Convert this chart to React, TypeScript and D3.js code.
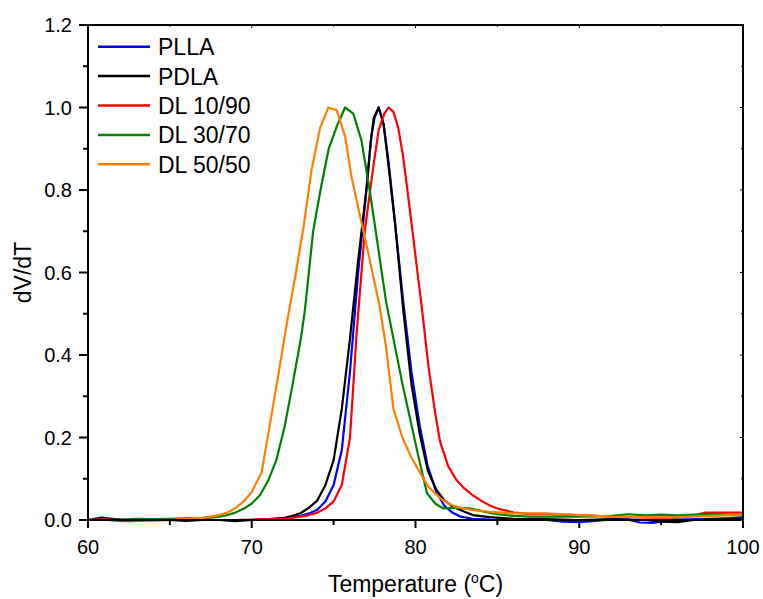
import React from "react";
import * as d3 from "d3";

const seriesNames = ["PLLA", "PDLA", "DL 10/90", "DL 30/70", "DL 50/50"];
const seriesColors = ["#0000ff", "#000000", "#ff0000", "#008000", "#ff8000"];

const plla: [number, number][] = [[60,0],[61,0.002],[62,-0.001],[63,0],[64,0.001],[65,0],[66,0],[67,0.001],[68,0],[69,0],[70,0],[71,0.001],[72,0.003],[73,0.01],[73.5,0.016],[74,0.025],[74.5,0.045],[75,0.085],[75.5,0.17],[76,0.36],[76.5,0.6],[77,0.8],[77.3,0.93],[77.5,0.975],[77.75,1.0],[78.05,0.96],[78.35,0.87],[78.75,0.72],[79.25,0.53],[79.75,0.36],[80.25,0.23],[80.75,0.13],[81.25,0.07],[81.75,0.035],[82.25,0.018],[82.75,0.008],[83.5,0.003],[84.5,0.001],[86,0],[88,0],[89,-0.004],[90,-0.005],[91,-0.002],[92,0.002],[93,0.001],[93.7,-0.006],[94.5,-0.007],[95.2,-0.002],[96,0.001],[98,0.003],[100,0.005]];

const pdla: [number, number][] = [[60,0],[60.8,0.006],[61.5,0.003],[62,0.001],[63,-0.002],[64,0],[65,0],[66,-0.002],[67,0],[68,0],[69,-0.003],[70,0],[71,0.002],[72,0.005],[72.5,0.01],[73,0.017],[73.5,0.03],[74,0.047],[74.5,0.085],[75,0.145],[75.5,0.27],[76,0.44],[76.5,0.63],[77,0.8],[77.25,0.91],[77.45,0.975],[77.75,1.0],[78.05,0.96],[78.35,0.86],[78.75,0.72],[79.25,0.51],[79.75,0.33],[80.25,0.21],[80.75,0.12],[81.25,0.075],[81.75,0.048],[82.25,0.033],[83,0.02],[83.5,0.012],[84.5,0.007],[86,0.003],[88,0.002],[90,0.0],[92,0.002],[94,0.0],[95,-0.004],[96,-0.005],[97,0.0],[98,0.002],[100,0.003]];

const dl1090: [number, number][] = [[60,0],[61,0.001],[62,-0.002],[62.5,-0.003],[63,-0.002],[64,0],[65,0],[66,0.001],[67,0.001],[68,0],[69,0],[70,0.001],[71,0.002],[72,0.003],[73,0.008],[73.5,0.012],[74,0.018],[74.5,0.028],[75,0.045],[75.5,0.085],[76,0.2],[76.4,0.45],[76.9,0.7],[77.4,0.85],[77.75,0.945],[78.1,0.985],[78.35,1.0],[78.65,0.99],[78.95,0.95],[79.25,0.88],[79.6,0.77],[80,0.64],[80.4,0.51],[80.8,0.37],[81.2,0.26],[81.5,0.19],[82,0.13],[82.5,0.097],[83,0.076],[83.5,0.06],[84,0.047],[84.5,0.036],[85,0.028],[86,0.018],[87,0.015],[88,0.015],[89,0.013],[90,0.012],[92,0.008],[94,0.006],[96,0.006],[97,0.01],[97.7,0.018],[100,0.018]];

const dl3070: [number, number][] = [[60,0],[61,0],[62,0.001],[63,0.003],[64,0.002],[65,0.003],[66,0.004],[67,0.005],[68,0.008],[68.5,0.012],[69,0.018],[69.5,0.027],[70,0.04],[70.5,0.06],[71,0.095],[71.5,0.145],[72,0.225],[72.5,0.33],[73,0.44],[73.25,0.51],[73.75,0.7],[74.2,0.8],[74.7,0.9],[75.2,0.955],[75.7,1.0],[76.2,0.985],[76.7,0.92],[77.2,0.8],[77.7,0.665],[78.2,0.53],[78.7,0.43],[79.2,0.33],[79.7,0.24],[80.2,0.15],[80.7,0.065],[81.2,0.04],[81.7,0.028],[82.5,0.03],[83.3,0.028],[84,0.022],[84.5,0.018],[85,0.014],[86,0.01],[87,0.008],[88,0.008],[89,0.008],[90,0.008],[91,0.009],[92,0.01],[93,0.014],[94,0.011],[95,0.013],[96,0.011],[97,0.013],[98,0.015],[100,0.01]];

const dl5050: [number, number][] = [[60,0],[61,0.001],[62,0],[63,-0.001],[64,-0.002],[65,0],[66,0.003],[67,0.005],[68,0.012],[68.5,0.018],[69,0.028],[69.5,0.045],[70,0.068],[70.6,0.115],[71.1,0.23],[71.7,0.37],[72.2,0.49],[72.7,0.6],[73.2,0.72],[73.65,0.848],[74.17,0.95],[74.68,1.0],[75.19,0.993],[75.7,0.93],[76.1,0.83],[76.6,0.74],[77.1,0.65],[77.8,0.52],[78.2,0.42],[78.65,0.27],[79.2,0.2],[79.7,0.155],[80.3,0.113],[80.8,0.08],[81.5,0.053],[82,0.04],[82.5,0.032],[83.5,0.024],[84.5,0.02],[86,0.016],[88,0.016],[89,0.014],[90,0.012],[91,0.01],[92,0.008],[94,0.007],[96,0.007],[98,0.01],[100,0.013]];

const seriesData = [plla, pdla, dl1090, dl3070, dl5050];

const xMajorTicks = [60, 70, 80, 90, 100];
const xMinorTicks = [65, 75, 85, 95];
const yMajorTicks = [0.0, 0.2, 0.4, 0.6, 0.8, 1.0, 1.2];
const yMinorTicks = [0.1, 0.3, 0.5, 0.7, 0.9, 1.1];

const W = 763, H = 599;
const left = 88, right = 743, top = 25, bottom = 520;
const font = "Arial, 'Liberation Sans', Helvetica, sans-serif";

export default function App() {
  const x = d3.scaleLinear().domain([60, 100]).range([left, right]);
  const y = d3.scaleLinear().domain([0, 1.2]).range([bottom, top]);
  const line = d3.line<[number, number]>().x(d => x(d[0])).y(d => y(d[1])).curve(d3.curveLinear);

  return (
    <svg width={W} height={H} style={{ position: "absolute", left: 0, top: 0, background: "#fff" }} fontFamily={font}>
      <defs>
        <clipPath id="plot">
          <rect x={left} y={top - 2} width={right - left + 8} height={bottom - top + 10} />
        </clipPath>
      </defs>
      <rect x={0} y={0} width={W} height={H} fill="#fff" />
      <g clipPath="url(#plot)">
        {seriesData.map((s, i) => (
          <path key={i} d={line(s) || ""} fill="none" stroke={seriesColors[i]} strokeWidth={2.2} strokeLinejoin="round" />
        ))}
      </g>
      <rect x={left} y={top} width={right - left} height={bottom - top} fill="none" stroke="#000" strokeWidth={2} />
      {xMajorTicks.map(t => (
        <g key={"xm" + t}>
          <line x1={x(t)} x2={x(t)} y1={bottom} y2={bottom + 8} stroke="#000" strokeWidth={2} />
          <line x1={x(t)} x2={x(t)} y1={top} y2={top + 3} stroke="#000" strokeWidth={1} />
          <text x={x(t)} y={554} textAnchor="middle" fontSize={20}>{t}</text>
        </g>
      ))}
      {xMinorTicks.map(t => (
        <g key={"xn" + t}>
          <line x1={x(t)} x2={x(t)} y1={bottom} y2={bottom + 5} stroke="#000" strokeWidth={2} />
          <line x1={x(t)} x2={x(t)} y1={top} y2={top + 2} stroke="#000" strokeWidth={1} />
        </g>
      ))}
      {yMajorTicks.map(t => (
        <g key={"ym" + t}>
          <line x1={left - 9} x2={left} y1={y(t)} y2={y(t)} stroke="#000" strokeWidth={2} />
          <line x1={right - 3} x2={right} y1={y(t)} y2={y(t)} stroke="#000" strokeWidth={1} />
          <text x={72} y={y(t) + 7} textAnchor="end" fontSize={20}>{t.toFixed(1)}</text>
        </g>
      ))}
      {yMinorTicks.map(t => (
        <g key={"yn" + t}>
          <line x1={left - 5} x2={left} y1={y(t)} y2={y(t)} stroke="#000" strokeWidth={2} />
          <line x1={right - 2} x2={right} y1={y(t)} y2={y(t)} stroke="#000" strokeWidth={1} />
        </g>
      ))}
      <text x={(left + right) / 2} y={592} textAnchor="middle" fontSize={23}>
        Temperature (<tspan dy={-9} fontSize={14}>o</tspan><tspan dy={9}>C)</tspan>
      </text>
      <text transform={`translate(31, ${(top + bottom) / 2}) rotate(-90)`} textAnchor="middle" fontSize={23}>dV/dT</text>
      {seriesNames.map((n, i) => {
        const ly = 46.7 + i * 29.4;
        return (
          <g key={n}>
            <line x1={98} x2={150} y1={ly} y2={ly} stroke={seriesColors[i]} strokeWidth={2.5} />
            <text x={158} y={ly + 8.5} fontSize={23}>{n}</text>
          </g>
        );
      })}
    </svg>
  );
}
